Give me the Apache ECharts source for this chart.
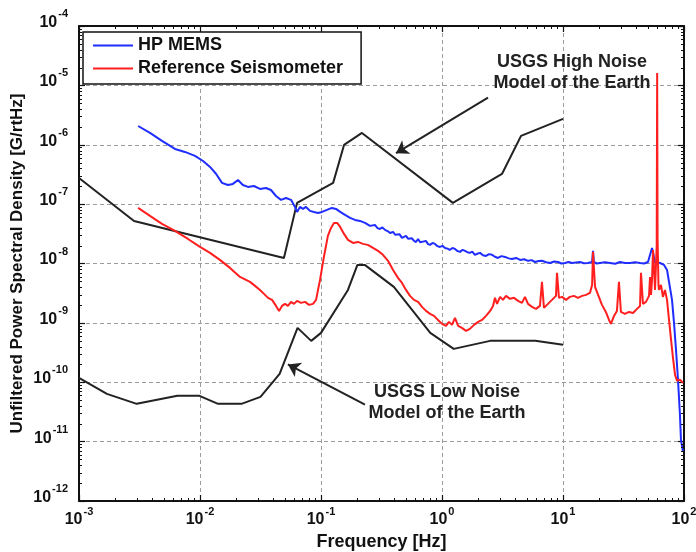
<!DOCTYPE html>
<html><head><meta charset="utf-8">
<script src="https://cdn.jsdelivr.net/npm/echarts@6/dist/echarts.min.js"></script>
<style>html,body{margin:0;padding:0;background:#fff}#c{width:696px;height:552px}</style>
</head><body><div id="c"></div>
<script>
// ---- data (frequency [Hz], PSD [G/rtHz]) ----
const xTickExponents = [-3, -2, -1, 0, 1, 2];
const yTickExponents = [-12, -11, -10, -9, -8, -7, -6, -5, -4];
const seriesNames = ['HP MEMS', 'Reference Seismometer', 'USGS High Noise', 'USGS Low Noise'];

const hpMems = [
[3.08e-3,2.07e-6],[3.86e-3,1.58e-6],[4.85e-3,1.16e-6],[6.21e-3,8.49e-7],[7.51e-3,7.57e-7],[9.09e-3,6.48e-7],
[1.06e-2,5.33e-7],[1.21e-2,4.23e-7],[1.36e-2,3.22e-7],[1.52e-2,2.28e-7],[1.70e-2,2.10e-7],[1.87e-2,2.19e-7],
[2.06e-2,2.55e-7],[2.26e-2,2.10e-7],[2.49e-2,1.95e-7],[2.79e-2,2.02e-7],[3.13e-2,1.80e-7],[3.51e-2,1.87e-7],
[3.86e-2,1.73e-7],[4.25e-2,1.37e-7],[4.67e-2,1.18e-7],[5.14e-2,1.27e-7],[5.65e-2,1.18e-7],[6.10e-2,8.97e-8],
[6.34e-2,7.39e-8],[6.70e-2,8.97e-8],[7.10e-2,8.30e-8],[7.51e-2,8.97e-8],[8.11e-2,7.69e-8],[8.75e-2,7.39e-8],
[9.45e-2,7.11e-8],[0.102,7.39e-8],[0.112,7.98e-8],[0.123,8.63e-8],[0.133,8.30e-8],[0.144,7.39e-8],
[0.158,6.58e-8],[0.174,5.86e-8],[0.191,5.42e-8],[0.210,5.21e-8],[0.231,4.83e-8],[0.254,4.30e-8],
[0.279,4.46e-8],[0.293,3.95e-8],[0.307,3.82e-8],[0.322,4.05e-8],[0.338,3.68e-8],[0.355,3.52e-8],[0.372,3.27e-8],
[0.394,3.40e-8],[0.41,3.05e-8],[0.425,2.92e-8],[0.445,3.12e-8],[0.467,2.70e-8],[0.485,2.78e-8],[0.504,2.92e-8],
[0.524,2.62e-8],[0.544,2.50e-8],[0.565,2.66e-8],[0.587,2.40e-8],[0.61,2.30e-8],[0.634,2.59e-8],[0.66,2.28e-8],
[0.684,2.22e-8],[0.71,2.36e-8],[0.738,2.40e-8],[0.767,2.12e-8],[0.797,2.06e-8],[0.835,2.22e-8],[0.875,2.14e-8],
[0.918,1.96e-8],[0.962,1.90e-8],[1.01,1.98e-8],[1.06,1.83e-8],[1.11,1.78e-8],[1.16,1.69e-8],[1.22,1.82e-8],
[1.28,1.76e-8],[1.34,1.62e-8],[1.41,1.57e-8],[1.48,1.70e-8],[1.55,1.63e-8],[1.62,1.55e-8],[1.70,1.51e-8],
[1.78,1.58e-8],[1.87,1.40e-8],[1.96,1.46e-8],[2.06,1.51e-8],[2.18,1.38e-8],[2.31,1.34e-8],[2.45,1.44e-8],
[2.59,1.40e-8],[2.74,1.30e-8],[2.90,1.24e-8],[3.10,1.33e-8],[3.32,1.29e-8],[3.55,1.22e-8],[3.79,1.19e-8],
[4.10,1.24e-8],[4.42,1.15e-8],[4.78,1.18e-8],[5.14,1.11e-8],[5.50,1.14e-8],[5.88,1.06e-8],[6.28,1.10e-8],
[6.71,1.11e-8],[7.25,1.05e-8],[7.81,1.02e-8],[8.45,1.08e-8],[9.10,1.06e-8],[9.70,1.00e-8],[10.4,1.02e-8],
[11.1,1.06e-8],[11.9,1.02e-8],[12.8,1.04e-8],[13.8,1.06e-8],[14.9,1.01e-8],[16.1,1.02e-8],[17.4,1.06e-8],
[17.7,1.63e-8],[18.0,1.06e-8],[19.0,1.00e-8],[20.2,1.02e-8],[22.2,1.05e-8],[24.5,1.02e-8],[27.0,0.99e-8],
[29.6,1.06e-8],[32.5,1.02e-8],[35.8,1.02e-8],[39.4,1.05e-8],[43.3,1.02e-8],[46.8,1.00e-8],[50.4,1.06e-8],
[54.4,1.83e-8],[57.6,1.06e-8],[63.4,1.02e-8],[68.4,9.47e-9],[72.4,7.80e-9],[75.2,4.90e-9],
[79.6,2.44e-9],[82.7,1.0e-9],[85.9,3.51e-10],[89.2,1.10e-10],[92.6,2.83e-11],[94.4,1.07e-11],[98.1,6.73e-12]
];

const refSeis = [
[3.08e-3,8.63e-8],[3.86e-3,6.33e-8],[4.85e-3,4.65e-8],[6.21e-3,3.54e-8],[7.96e-3,2.59e-8],[1.0e-2,1.90e-8],
[1.21e-2,1.51e-8],[1.46e-2,1.15e-8],[1.77e-2,8.43e-9],[2.14e-2,5.94e-9],[2.40e-2,5.30e-9],[2.59e-2,4.90e-9],
[2.85e-2,4.20e-9],[3.13e-2,3.59e-9],[3.38e-2,3.08e-9],[3.65e-2,2.64e-9],[3.94e-2,2.44e-9],[4.25e-2,1.93e-9],
[4.50e-2,1.59e-9],[4.76e-2,1.93e-9],[5.04e-2,2.09e-9],[5.33e-2,1.93e-9],[5.65e-2,2.26e-9],[5.98e-2,2.09e-9],
[6.34e-2,2.35e-9],[6.84e-2,2.17e-9],[7.38e-2,2.26e-9],[7.96e-2,2.01e-9],[8.59e-2,2.09e-9],[9.10e-2,2.44e-9],
[9.45e-2,3.59e-9],[9.82e-2,5.30e-9],[0.102,8.43e-9],[0.106,1.34e-8],[0.110,1.98e-8],[0.114,2.92e-8],
[0.121,3.97e-8],[0.128,4.83e-8],[0.136,4.83e-8],[0.144,4.13e-8],[0.155,3.15e-8],[0.167,2.50e-8],
[0.184,2.22e-8],[0.202,2.31e-8],[0.222,2.14e-8],[0.244,2.06e-8],[0.269,1.83e-8],[0.296,1.63e-8],
[0.325,1.40e-8],[0.358,1.11e-8],[0.394,7.80e-9],[0.433,5.73e-9],[0.467,4.71e-9],[0.504,3.59e-9],
[0.544,2.85e-9],[0.587,2.44e-9],[0.634,2.26e-9],[0.684,1.86e-9],[0.738,1.59e-9],[0.797,1.42e-9],
[0.859,1.31e-9],[0.927,1.12e-9],[1.00,9.62e-10],[1.08,8.90e-10],[1.14,1.04e-9],[1.21,9.25e-10],
[1.28,1.21e-9],[1.36,8.90e-10],[1.46,8.24e-10],[1.58,7.33e-10],[1.70,7.93e-10],[1.84,9.25e-10],
[1.99,1.04e-9],[2.14,1.12e-9],[2.31,1.31e-9],[2.50,1.59e-9],[2.64,1.93e-9],[2.74,2.64e-9],
[2.85,2.09e-9],[3.02,2.74e-9],[3.19,2.44e-9],[3.38,2.85e-9],[3.65,2.54e-9],[3.94,2.64e-9],
[4.25,2.35e-9],[4.58,2.17e-9],[4.85,2.74e-9],[5.14,2.09e-9],[5.55,1.86e-9],[5.98,1.72e-9],
[6.45,1.93e-9],[6.70,4.90e-9],[6.96,1.79e-9],[7.51,2.09e-9],[8.11,2.44e-9],[8.75,2.85e-9],
[8.92,6.95e-9],[9.26,2.64e-9],[9.82,2.74e-9],[10.6,2.44e-9],[11.4,2.74e-9],[12.3,2.85e-9],
[13.3,2.64e-9],[14.4,2.85e-9],[15.5,2.96e-9],[16.7,3.20e-9],[17.4,4.36e-9],[17.7,1.57e-8],
[18.4,4.04e-9],[19.5,2.96e-9],[21.0,2.01e-9],[22.6,1.53e-9],[24.0,1.12e-9],[24.9,9.62e-10],
[26.4,1.31e-9],[27.9,1.59e-9],[29.0,4.90e-9],[30.1,1.53e-9],[32.5,1.42e-9],[35.1,1.53e-9],
[37.9,1.47e-9],[40.9,1.72e-9],[43.3,1.93e-9],[44.1,6.95e-9],[45.8,2.09e-9],[48.5,2.26e-9],
[51.4,2.85e-9],[52.4,5.94e-9],[53.4,2.96e-9],[54.4,5.30e-9],[55.5,1.69e-8],[56.5,8.43e-9],
[57.6,3.59e-9],[59.5,2.0e-8],[60.0,1.62e-5],[60.5,2.5e-8],[61.5,4.5e-9],[62.1,3.59e-9],
[64.5,4.36e-9],[67.0,2.74e-9],[69.6,3.59e-9],[72.4,2.44e-9],[75.2,1.12e-9],[78.2,5.18e-10],
[81.1,2.58e-10],[84.3,1.33e-10],[87.5,1.06e-10],[92.6,1.10e-10],[98.1,9.77e-11]
];

const highNoise = [
[1e-3,2.76e-7],[2.85e-3,5.21e-8],[4.94e-2,1.24e-8],[6.34e-2,1.05e-7],[0.126,2.28e-7],[0.155,9.93e-7],
[0.218,1.58e-6],[1.23,1.05e-7],[3.13,3.22e-7],[4.50,1.41e-6],[10,2.72e-6]
];

const lowNoise = [
[1e-3,1.19e-10],[1.70e-3,6.38e-11],[3.0e-3,4.33e-11],[6.5e-3,5.90e-11],[9.9e-3,5.90e-11],[1.41e-2,4.33e-11],
[2.2e-2,4.33e-11],[3.16e-2,5.68e-11],[4.55e-2,1.38e-10],[6.4e-2,8.24e-10],[8.3e-2,4.98e-10],[0.1,6.79e-10],
[0.167,3.59e-9],[0.20,9.47e-9],[0.23,9.47e-9],[0.40,4.04e-9],[0.8,6.79e-10],[1.25,3.65e-10],
[2.5,4.98e-10],[5.9,4.98e-10],[10,4.27e-10]
];

// annotation arrows: [start, end] in data coordinates
const highArrow = [[2.4, 6.2e-6], [0.417, 7.2e-7]];
const lowArrow = [[0.231, 4.2e-11], [0.0533, 2.0e-10]];
const highLabel = 'USGS High Noise\nModel of the Earth';
const lowLabel = 'USGS Low Noise\nModel of the Earth';

// ---- chart ----
const FONT = '"Liberation Sans", Arial, Helvetica, sans-serif';
const xMin = Math.pow(10, xTickExponents[0]), xMax = Math.pow(10, xTickExponents[xTickExponents.length - 1]);
const yMin = Math.pow(10, yTickExponents[0]), yMax = Math.pow(10, yTickExponents[yTickExponents.length - 1]);

function minorValues(exps) {
  const out = [];
  for (let i = 0; i < exps.length - 1; i++) {
    for (let k = 2; k <= 9; k++) out.push(Number((k * Math.pow(10, exps[i])).toPrecision(3)));
  }
  return out;
}
// [x, y, kind]  kind 0 = x-axis minor tick, 1 = y-axis minor tick
const minorTickData = minorValues(xTickExponents).map(v => [v, yMin, 0])
  .concat(minorValues(yTickExponents).map(v => [xMin, v, 1]));

const labelRich = {
  b: { fontSize: 16, fontWeight: 'bold', fontFamily: FONT, color: '#111', lineHeight: 18, verticalAlign: 'bottom' },
  s: { fontSize: 11, fontWeight: 'bold', fontFamily: FONT, color: '#111', lineHeight: 11, verticalAlign: 'bottom', padding: [0, 0, 11, 1] }
};
function expFormatter(v) {
  const e = Math.round(Math.log10(v));
  return '{b|10}{s|' + e + '}';
}
const AX = '#111';
function majorAxis(min, max, pos, isX, showLabel) {
  return {
    type: 'log', logBase: 10, min: min, max: max, position: pos,
    axisLine: { show: true, onZero: false, lineStyle: { color: AX, width: 2 } },
    axisTick: { show: true, inside: true, length: 6, lineStyle: { color: AX, width: 1.2 } },
    axisLabel: { show: showLabel, formatter: expFormatter, rich: labelRich, margin: isX ? 9 : 11,
                 padding: isX ? 0 : [0, 0, 9, 0] },
    splitLine: { show: showLabel, lineStyle: { type: [4, 3], color: '#9c9c9c', width: 1 } },
    minorTick: { show: false }, minorSplitLine: { show: false }
  };
}

const xMain = majorAxis(xMin, xMax, 'bottom', true, true);
xMain.name = 'Frequency [Hz]';
xMain.nameLocation = 'middle';
xMain.nameGap = 31;
xMain.nameTextStyle = { fontSize: 18, fontWeight: 'bold', fontFamily: FONT, color: '#111' };
const yMain = majorAxis(yMin, yMax, 'left', false, true);
yMain.name = 'Unfiltered Power Spectral Density [G/rtHz]';
yMain.nameLocation = 'middle';
yMain.nameGap = 53;
yMain.nameMoveOverlap = false;
yMain.nameTextStyle = { fontSize: 17, fontWeight: 'bold', fontFamily: FONT, color: '#111' };

const chart = echarts.init(document.getElementById('c'), null, { renderer: 'canvas' });
const lineBase = { type: 'line', showSymbol: false, symbol: 'none', animation: false, xAxisIndex: 0, yAxisIndex: 0, clip: true };
const black = '#222';

function renderMinorTick(params, api) {
  const cs = params.coordSys;
  const kind = api.value(2);
  const st = { stroke: AX, lineWidth: 1 };
  const L = 3;
  if (kind === 0) {
    const px = Math.round(api.coord([api.value(0), yMin])[0]) + 0.5;
    return { type: 'group', children: [
      { type: 'line', shape: { x1: px, y1: cs.y + cs.height, x2: px, y2: cs.y + cs.height - L }, style: st },
      { type: 'line', shape: { x1: px, y1: cs.y, x2: px, y2: cs.y + L }, style: st }
    ] };
  }
  const py = Math.round(api.coord([xMin, api.value(1)])[1]) + 0.5;
  return { type: 'group', children: [
    { type: 'line', shape: { x1: cs.x, y1: py, x2: cs.x + L, y2: py }, style: st },
    { type: 'line', shape: { x1: cs.x + cs.width, y1: py, x2: cs.x + cs.width - L, y2: py }, style: st }
  ] };
}

chart.setOption({
  backgroundColor: '#fff',
  animation: false,
  grid: { left: 79, right: 12, top: 26, bottom: 51, containLabel: false, outerBoundsMode: 'none' },
  xAxis: [ xMain, majorAxis(xMin, xMax, 'top', true, false) ],
  yAxis: [ yMain, majorAxis(yMin, yMax, 'right', false, false) ],
  legend: {
    data: [{ name: seriesNames[0], icon: 'rect' }, { name: seriesNames[1], icon: 'rect' }],
    orient: 'vertical', left: 83, top: 32,
    itemWidth: 40, itemHeight: 2, itemGap: 4,
    padding: [4, 18, 6, 10],
    backgroundColor: '#fff', borderColor: '#111', borderWidth: 1.5, borderRadius: 0,
    textStyle: { fontSize: 18, fontWeight: 'bold', fontFamily: FONT, color: '#111', lineHeight: 19 },
    selectedMode: false
  },
  series: [
    Object.assign({}, lineBase, {
      name: seriesNames[2], data: highNoise, lineStyle: { color: black, width: 2 }, itemStyle: { color: black }, z: 2,
      markLine: {
        silent: true, symbol: ['none', 'arrow'], symbolSize: 12, animation: false,
        label: { show: false }, lineStyle: { color: black, width: 2, type: 'solid' },
        data: [
          [{ coord: highArrow[0] }, { coord: highArrow[1] }],
          [{ coord: lowArrow[0] }, { coord: lowArrow[1] }]
        ]
      }
    }),
    Object.assign({}, lineBase, { name: seriesNames[3], data: lowNoise, lineStyle: { color: black, width: 2 }, itemStyle: { color: black }, z: 2 }),
    Object.assign({}, lineBase, { name: seriesNames[0], data: hpMems, lineStyle: { color: '#1f2dff', width: 2 }, itemStyle: { color: '#1f2dff' }, z: 3 }),
    Object.assign({}, lineBase, { name: seriesNames[1], data: refSeis, lineStyle: { color: '#ff1f1f', width: 2 }, itemStyle: { color: '#ff1f1f' }, z: 4 }),
    { type: 'custom', name: 'minorTicks', xAxisIndex: 0, yAxisIndex: 0, silent: true, clip: false, z: 6,
      animation: false, data: minorTickData, renderItem: renderMinorTick, encode: { x: 0, y: 1 } }
  ],
  graphic: [
    { type: 'text', x: 572, y: 73, z: 100,
      style: { text: highLabel, font: 'bold 18px ' + FONT, fill: '#222', textAlign: 'center', textVerticalAlign: 'middle', lineHeight: 21 } },
    { type: 'text', x: 447, y: 402.5, z: 100,
      style: { text: lowLabel, font: 'bold 18px ' + FONT, fill: '#222', textAlign: 'center', textVerticalAlign: 'middle', lineHeight: 21 } }
  ]
});
</script>
</body></html>
